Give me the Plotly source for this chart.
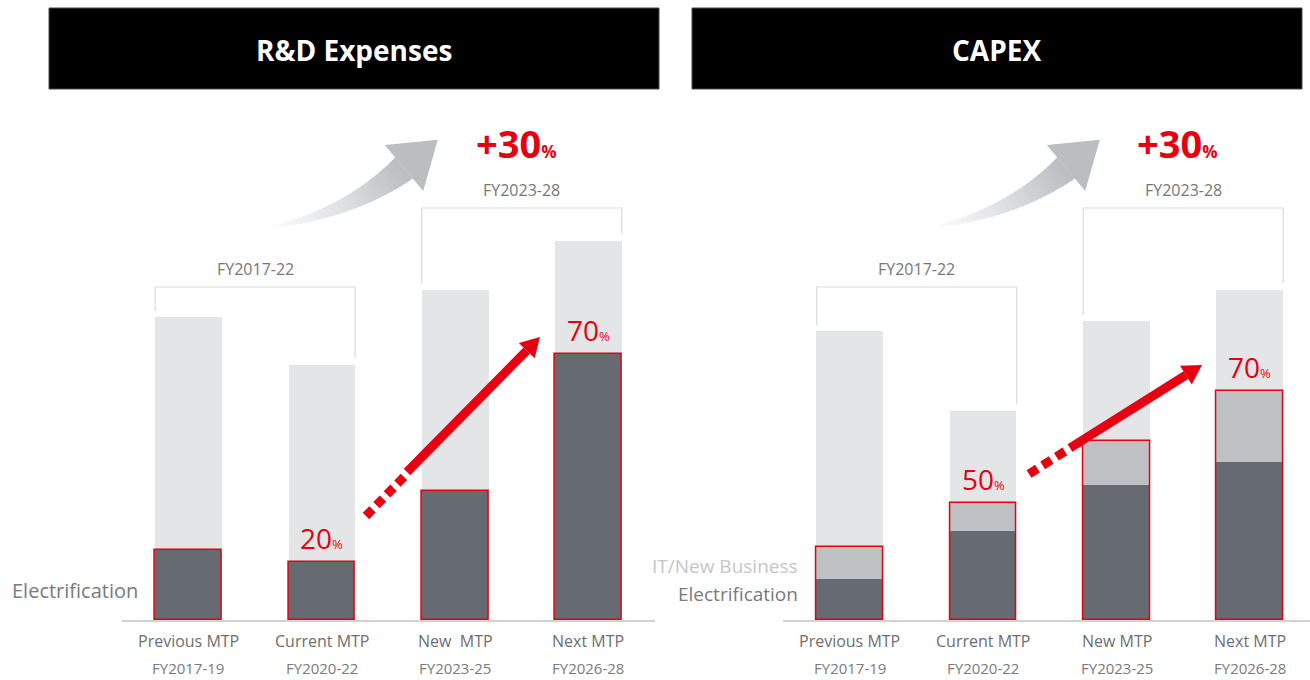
import numpy as np
import plotly.graph_objects as go

W, H = 1310, 680

# ---------------- data ----------------
rd_categories = ["Previous MTP", "Current MTP", "New\u00a0 MTP", "Next MTP"]
capex_categories = ["Previous MTP", "Current MTP", "New MTP", "Next MTP"]
periods = ["FY2017-19", "FY2020-22", "FY2023-25", "FY2026-28"]

rd_total = [303, 255, 330, 379]
rd_elec = [70, 58, 129, 266]
rd_pct_labels = {1: "20", 3: "70"}

capex_total = [289, 209, 299, 330]
capex_elec = [41, 89, 135, 158]
capex_it = [32, 28, 44, 71]
capex_pct_labels = {1: "50", 3: "70"}

growth_label = "+30"
group_labels = ["FY2017-22", "FY2023-28"]
panel_titles = ["R&D Expenses", "CAPEX"]

# ---------------- style ----------------
LIGHT = "#e3e5e7"
MID = "#bec1c3"
DARK = "#656b71"
RED = "#e60012"
BRACKET = "#dcdcdc"
FONT = "Open Sans"

xpos = [0, 1, 2, 3]
BW = 0.5

fig = go.Figure()

# R&D panel
fig.add_trace(go.Bar(x=xpos, y=rd_total, width=BW, marker=dict(color=LIGHT, line=dict(width=0)),
                     xaxis="x", yaxis="y", hoverinfo="skip"))
fig.add_trace(go.Bar(x=xpos, y=rd_elec, width=BW, marker=dict(color=DARK, line=dict(width=1.5, color=RED)),
                     xaxis="x", yaxis="y", hoverinfo="skip"))

# CAPEX panel
capex_sum = [e + i for e, i in zip(capex_elec, capex_it)]
fig.add_trace(go.Bar(x=xpos, y=capex_total, width=BW, marker=dict(color=LIGHT, line=dict(width=0)),
                     xaxis="x2", yaxis="y2", hoverinfo="skip"))
fig.add_trace(go.Bar(x=xpos, y=capex_sum, width=BW, marker=dict(color=MID, line=dict(width=0)),
                     xaxis="x2", yaxis="y2", hoverinfo="skip"))
fig.add_trace(go.Bar(x=xpos, y=capex_elec, width=BW, marker=dict(color=DARK, line=dict(width=0)),
                     xaxis="x2", yaxis="y2", hoverinfo="skip"))
fig.add_trace(go.Bar(x=xpos, y=capex_sum, width=BW,
                     marker=dict(color="rgba(0,0,0,0)", line=dict(width=1.5, color=RED)),
                     xaxis="x2", yaxis="y2", hoverinfo="skip"))

def px(x, y):
    return x / W, 1 - y / H

shapes = []
annotations = []

def poly(points, color, line_color=None):
    pts = [px(x, y) for x, y in points]
    d = "M " + " L ".join(f"{a:.5f},{b:.5f}" for a, b in pts) + " Z"
    shapes.append(dict(type="path", path=d, xref="paper", yref="paper",
                       fillcolor=color, line=dict(width=0.6 if line_color else 0,
                                                  color=line_color or color),
                       layer="above"))

# headers
for i, (x0, x1) in enumerate([(49, 659), (692, 1302)]):
    a0, b0 = px(x0, 8)
    a1, b1 = px(x1, 89)
    shapes.append(dict(type="rect", xref="paper", yref="paper", x0=a0, x1=a1, y0=b1, y1=b0,
                       fillcolor="#000000", line=dict(color="#4a4a4a", width=1)))
    cx, cy = px((x0 + x1) / 2, 50)
    annotations.append(dict(xref="paper", yref="paper", x=cx, y=cy, text=f"<b>{panel_titles[i]}</b>",
                            showarrow=False, font=dict(family=FONT, size=28, color="#ffffff"),
                            xanchor="center", yanchor="middle"))

# gray curved arrow (gradient approximation)
def curved_arrow(dx):
    P0 = np.array([268.0 + dx, 228.0])
    P1 = np.array([350.0 + dx, 213.0])
    P2 = np.array([404.0 + dx, 168.0])
    N = 30
    ts = np.linspace(0, 1, N + 1)
    def pt(t):
        return (1 - t) ** 2 * P0 + 2 * (1 - t) * t * P1 + t ** 2 * P2
    def tan(t):
        v = 2 * (1 - t) * (P1 - P0) + 2 * t * (P2 - P1)
        return v / np.linalg.norm(v)
    c0 = np.array([254, 254, 254])
    c1 = np.array([186, 190, 193])
    for k in range(N):
        ta, tb = ts[k], min(ts[k + 1] + 0.01, 1)
        pa, pb = pt(ta), pt(tb)
        na = tan(ta); na = np.array([na[1], -na[0]])
        nb = tan(tb); nb = np.array([nb[1], -nb[0]])
        wa = 1 + 26 * ta ** 1.1
        wb = 1 + 26 * tb ** 1.1
        pts = [pa + na * wa / 2, pb + nb * wb / 2, pb - nb * wb / 2, pa - na * wa / 2]
        f = ((ta + tb) / 2) ** 1.1
        c = (c0 + (c1 - c0) * f).astype(int)
        col = f"rgb({c[0]},{c[1]},{c[2]})"
        poly([tuple(p) for p in pts], col, col)
    u = tan(1.0)
    n = np.array([u[1], -u[0]])
    tip = P2 + u * 44
    poly([tuple(P2 + n * 30), tuple(tip), tuple(P2 - n * 30)], "rgb(186,190,193)")

curved_arrow(0)
curved_arrow(662)

# red arrows (dashed then solid)
def red_arrow(start, mid, tip, ndash, w=9.0, head_w=22.0, head_len=19.0):
    s, m, t = np.array(start, float), np.array(mid, float), np.array(tip, float)
    u = (t - s) / np.linalg.norm(t - s)
    n = np.array([-u[1], u[0]])
    seg = np.linalg.norm(m - s)
    period = seg / ndash
    dl = period * 0.62
    for k in range(ndash):
        a = s + u * (k * period)
        b = a + u * dl
        poly([tuple(a + n * w / 2), tuple(b + n * w / 2), tuple(b - n * w / 2), tuple(a - n * w / 2)], RED)
    base = t - u * head_len
    poly([tuple(m + n * w / 2), tuple(base + n * w / 2), tuple(base - n * w / 2), tuple(m - n * w / 2)], RED)
    poly([tuple(base + n * head_w / 2), tuple(t), tuple(base - n * head_w / 2)], RED)

red_arrow((366, 516), (407, 472), (540, 337), 4)
red_arrow((1029, 474), (1070, 448), (1202, 365), 3)

# per-panel annotations in data coordinates
panels = [
    dict(xa="x", ya="y", totals=rd_total, pct_tops=rd_elec, pct=rd_pct_labels, cats=rd_categories),
    dict(xa="x2", ya="y2", totals=capex_total, pct_tops=capex_sum, pct=capex_pct_labels, cats=capex_categories),
]
BR_Y = [333, 412]
for p in panels:
    xr, yr = p["xa"], p["ya"]
    tot = p["totals"]
    for g, (i0, i1) in enumerate([(0, 1), (2, 3)]):
        xl, xrr = i0 - BW / 2, i1 + BW / 2
        ytop = BR_Y[g]
        path = (f"M {xl},{tot[i0] + 6} L {xl},{ytop} L {xrr},{ytop} L {xrr},{tot[i1] + 7}")
        shapes.append(dict(type="path", path=path, xref=xr, yref=yr,
                           line=dict(color=BRACKET, width=1.2), layer="below"))
        annotations.append(dict(xref=xr, yref=yr, x=(i0 + i1) / 2, y=ytop + 18,
                                text=group_labels[g], showarrow=False,
                                font=dict(family=FONT, size=16, color="#777777"),
                                xanchor="center", yanchor="middle"))
    annotations.append(dict(xref=xr, yref=yr, x=2.46, y=477,
                            text=f"<b>{growth_label}<span style='font-size:17px'>%</span></b>",
                            showarrow=False, font=dict(family=FONT, size=38, color=RED),
                            xanchor="center", yanchor="middle"))
    for i, lab in p["pct"].items():
        annotations.append(dict(xref=xr, yref=yr, x=i, y=p["pct_tops"][i] + 24,
                                text=f"{lab}<span style='font-size:13px'>%</span>",
                                showarrow=False, font=dict(family=FONT, size=28, color=RED),
                                xanchor="center", yanchor="middle"))
    for i in range(4):
        annotations.append(dict(xref=xr, yref="paper", x=i, y=1 - 641 / H, text=p["cats"][i],
                                showarrow=False, font=dict(family=FONT, size=16, color="#6e6e6e"),
                                xanchor="center", yanchor="middle"))
        annotations.append(dict(xref=xr, yref="paper", x=i, y=1 - 668 / H, text=periods[i],
                                showarrow=False, font=dict(family=FONT, size=15, color="#7a7a7a"),
                                xanchor="center", yanchor="middle"))

# legend-like side labels
annotations.append(dict(xref="paper", yref="paper", x=140 / W, y=1 - 590 / H, text="Electrification",
                        showarrow=False, font=dict(family=FONT, size=20, color="#7a7a7a"),
                        xanchor="right", yanchor="middle"))
annotations.append(dict(xref="paper", yref="paper", x=800 / W, y=1 - 594 / H, text="Electrification",
                        showarrow=False, font=dict(family=FONT, size=19, color="#7a7a7a"),
                        xanchor="right", yanchor="middle"))
annotations.append(dict(xref="paper", yref="paper", x=800 / W, y=1 - 566 / H, text="IT/New Business",
                        showarrow=False, font=dict(family=FONT, size=19, color="#c6c6c6"),
                        xanchor="right", yanchor="middle"))

axis_common = dict(showgrid=False, zeroline=False, showticklabels=False, ticks="",
                   showline=True, linecolor="#d2d2d2", linewidth=1.5, fixedrange=True)
yaxis_common = dict(range=[0, 620], domain=[60 / H, 1], visible=False, fixedrange=True)

fig.update_layout(
    width=W, height=H,
    margin=dict(l=0, r=0, t=0, b=0),
    paper_bgcolor="white", plot_bgcolor="rgba(0,0,0,0)",
    barmode="overlay", bargap=0,
    showlegend=False,
    xaxis=dict(domain=[121.8 / W, 655.1 / W], range=[-0.5, 3.5], anchor="y", **axis_common),
    yaxis=dict(anchor="x", **yaxis_common),
    xaxis2=dict(domain=[783.3 / W, 1309.9 / W], range=[-0.5, 3.45], anchor="y2", **axis_common),
    yaxis2=dict(anchor="x2", **yaxis_common),
    shapes=shapes,
    annotations=annotations,
    font=dict(family=FONT),
)

fig.write_html("out.html", config={"displayModeBar": False},
               post_script="document.body.style.margin='0';document.body.style.overflow='hidden';")
